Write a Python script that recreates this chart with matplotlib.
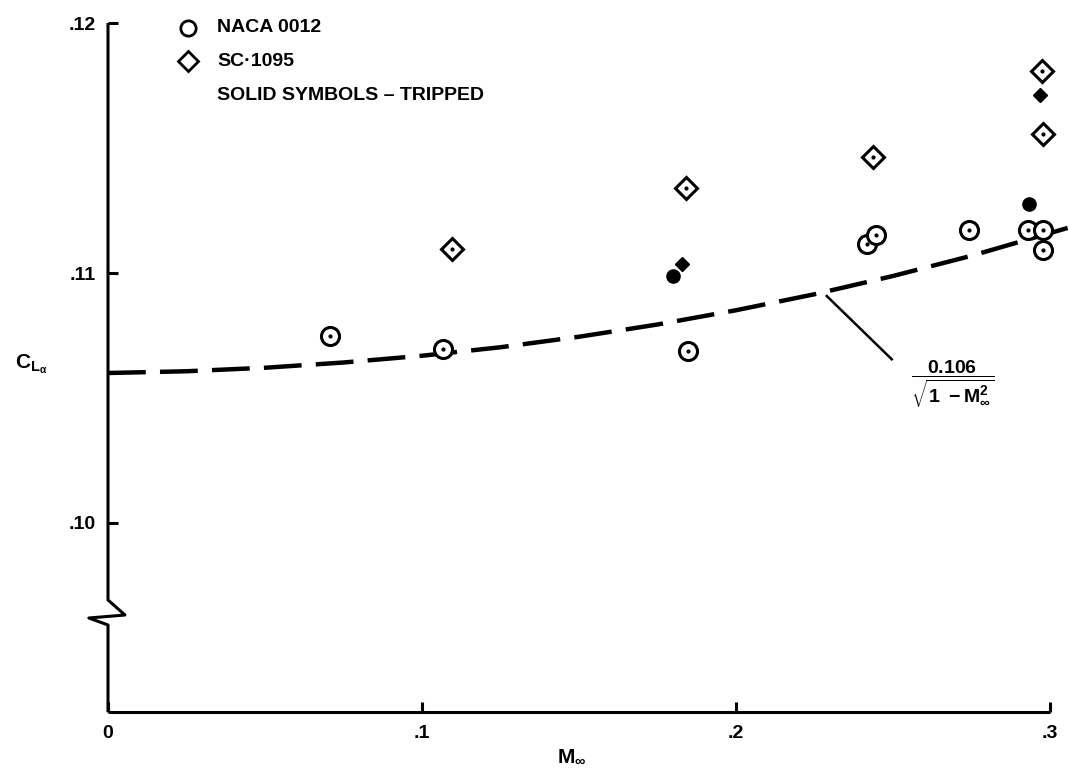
import numpy as np
import matplotlib.pyplot as plt

plt.rcParams["font.family"] = ["Liberation Sans", "DejaVu Sans"]
plt.rcParams["font.weight"] = "bold"
plt.rcParams["mathtext.fontset"] = "custom"
plt.rcParams["mathtext.rm"] = "Liberation Sans:bold"
plt.rcParams["mathtext.it"] = "Liberation Sans:bold"
plt.rcParams["mathtext.bf"] = "Liberation Sans:bold"

# NACA 0012 (open circles)
naca_m = [0.0707, 0.1068, 0.1848, 0.2416, 0.2446, 0.2743, 0.2931, 0.2979, 0.2979]
naca_cl = [0.10748, 0.10697, 0.10688, 0.11115, 0.11152, 0.11171, 0.11172, 0.11172, 0.11091]

# SC-1095 (open diamonds)
sc_m = [0.1097, 0.1840, 0.2437, 0.2974, 0.2977]
sc_cl = [0.11095, 0.11339, 0.11465, 0.11808, 0.11557]

# solid symbols - tripped
naca_trip_m = [0.1800, 0.2932]
naca_trip_cl = [0.10988, 0.11275]
sc_trip_m = [0.1827, 0.2968]
sc_trip_cl = [0.11035, 0.11711]

# 0.106/sqrt(1-M^2) curve
curve_m = [0.0, 0.025, 0.05, 0.075, 0.1, 0.125, 0.15, 0.175, 0.2, 0.225, 0.25, 0.275, 0.3064]
curve_cl = [0.10600, 0.10607, 0.10621, 0.10642, 0.10669, 0.10703, 0.10745,
            0.10794, 0.10851, 0.10915, 0.10988, 0.11069, 0.11183]

xticks = [0.0, 0.1, 0.2, 0.3]
xticklabels = ["0", ".1", ".2", ".3"]
yticks = [0.10, 0.11, 0.12]
yticklabels = [".10", ".11", ".12"]

xmax = 0.30637
ymin, ymax = 0.09244, 0.12092

fig = plt.figure(figsize=(10.7, 7.68), dpi=100)
ax = fig.add_axes([108 / 1070, 56 / 768, 962 / 1070, 712 / 768])
ax.set_xlim(0, xmax)
ax.set_ylim(ymin, ymax)
for s in ax.spines.values():
    s.set_visible(False)

# axis lines drawn by hand (with the break in the y axis)
k = dict(color="black", lw=2.2, clip_on=False, solid_capstyle="butt", zorder=4)
ax.plot([0, 0, 0.0054, -0.0061, 0, 0],
        [0.12, 0.09692, 0.09632, 0.09620, 0.09592, ymin], **k)
ax.plot([0, 0.3], [ymin, ymin], **k)

ax.set_xticks(xticks, xticklabels)
ax.set_yticks(yticks, yticklabels)
ax.tick_params(direction="in", length=7, width=2.2, labelsize=14, pad=9)

# dashed curve and leader
ax.plot(curve_m, curve_cl, color="black", lw=3.2, dashes=(8.5, 3.2), clip_on=False, zorder=2)
ax.plot([0.2289, 0.2496], [0.10908, 0.10655], color="black", lw=1.8, zorder=2)
ax.text(0.2691, 0.10556, r"$\dfrac{0.106}{\sqrt{1\ -\mathrm{M}_\infty^2}}$",
        fontsize=14, ha="center", va="center")

# data
ax.plot(naca_m, naca_cl, "o", ms=13, mfc="white", mec="black", mew=2.2, zorder=3)
ax.plot(naca_m, naca_cl, "o", ms=2, color="black", zorder=3)
ax.plot(sc_m, sc_cl, "D", ms=11.5, mfc="white", mec="black", mew=2.2, zorder=3)
ax.plot(sc_m, sc_cl, "o", ms=2, color="black", zorder=3)
ax.plot(naca_trip_m, naca_trip_cl, "o", ms=9.5, color="black", zorder=3)
ax.plot(sc_trip_m, sc_trip_cl, "D", ms=7.2, color="black", zorder=3)

# legend
ax.plot([0.0255], [0.1198], "o", ms=11, mfc="white", mec="black", mew=2, clip_on=False)
ax.plot([0.0255], [0.11848], "D", ms=10, mfc="white", mec="black", mew=2, clip_on=False)
ax.text(0.0347, 0.1198, "NACA 0012", fontsize=14, va="center")
ax.text(0.0347, 0.11848, "SC\u00b71095", fontsize=14, va="center")
ax.text(0.0347, 0.11708, "SOLID SYMBOLS \u2013 TRIPPED", fontsize=14, va="center")

# axis titles
ax.text(-0.0243, 0.10636, r"$\mathrm{C}_{\mathrm{L}_\alpha}$", fontsize=15,
        ha="center", va="center", clip_on=False)
ax.text(0.1478, 0.09068, r"$\mathrm{M}_\infty$", fontsize=15,
        ha="center", va="center", clip_on=False)

fig.savefig("out.png", dpi=100)
